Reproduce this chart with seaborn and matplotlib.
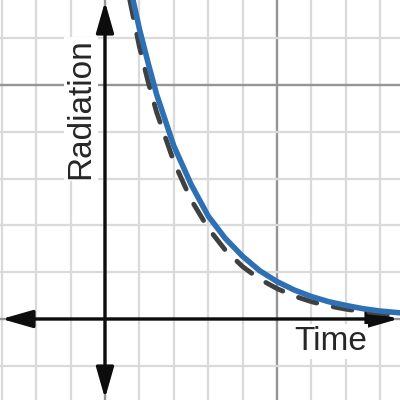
import numpy as np
import pandas as pd
import seaborn as sns
import matplotlib.pyplot as plt
from matplotlib.ticker import MultipleLocator

# --- Data (time in x-units, radiation in y-units) ---
time_blue = [0.7, 1.0, 1.25, 1.5, 2.0, 2.5, 3.0, 3.5, 4.0, 4.5, 5.0, 5.5, 6.0, 6.5, 7.0, 7.5, 8.0, 8.6]
rad_blue = [7.20, 6.20, 5.48, 4.80, 3.70, 2.88, 2.20, 1.72, 1.34, 1.03, 0.80, 0.62, 0.48, 0.37, 0.29, 0.22, 0.17, 0.13]

time_dash = [0.6, 1.0, 1.25, 1.5, 2.0, 2.5, 3.0, 3.5, 4.0, 4.5, 5.0, 5.5, 6.0, 6.5, 7.0, 7.5, 8.0, 8.6]
rad_dash = [7.25, 5.82, 5.08, 4.42, 3.36, 2.55, 1.94, 1.47, 1.12, 0.85, 0.65, 0.49, 0.37, 0.28, 0.21, 0.16, 0.12, 0.09]

x_label = 'Time'
y_label = 'Radiation'

blue_df = pd.DataFrame({'time': time_blue, 'radiation': rad_blue})
dash_df = pd.DataFrame({'time': time_dash, 'radiation': rad_dash})

# --- Style ---
sns.set_style('white')
plt.rcParams['font.family'] = ['Liberation Sans', 'DejaVu Sans']

fig = plt.figure(figsize=(4, 4), dpi=100)
ax = fig.add_axes([0, 0, 1, 1])

x_min, x_max = -3.052, 8.576
y_min, y_max = -1.731, 6.816
ax.set_xlim(x_min, x_max)
ax.set_ylim(y_min, y_max)

# graph-paper grid
ax.xaxis.set_major_locator(MultipleLocator(5))
ax.xaxis.set_minor_locator(MultipleLocator(1))
ax.yaxis.set_major_locator(MultipleLocator(5))
ax.yaxis.set_minor_locator(MultipleLocator(1))
ax.grid(which='minor', color='#dadada', linewidth=1.6)
ax.grid(which='major', color='#959595', linewidth=1.7)
ax.tick_params(which='both', length=0, labelbottom=False, labelleft=False)
ax.set_axisbelow(True)
for s in ax.spines.values():
    s.set_visible(False)

# axes with arrow heads
arrow = dict(arrowstyle='<|-|>,head_length=1.05,head_width=0.3',
             mutation_scale=18, color='#0d0d0d', lw=2.4, shrinkA=0, shrinkB=0)
ax.annotate('', xy=(0.996, 0), xytext=(0.004, 0),
            xycoords=('axes fraction', 'data'), textcoords=('axes fraction', 'data'),
            arrowprops=arrow, zorder=3)
ax.annotate('', xy=(0, 0.996), xytext=(0, 0.004),
            xycoords=('data', 'axes fraction'), textcoords=('data', 'axes fraction'),
            arrowprops=arrow, zorder=3)

# curves
sns.lineplot(data=dash_df, x='time', y='radiation', ax=ax, estimator=None, sort=False,
             color='#404040', linewidth=3.5, linestyle=(0, (3.9, 3.5)),
             dash_capstyle='round', zorder=4)
sns.lineplot(data=blue_df, x='time', y='radiation', ax=ax, estimator=None, sort=False,
             color='#2d70b3', linewidth=4.0, solid_capstyle='round', zorder=5)
ax.set_xlabel('')
ax.set_ylabel('')

# labels with white backing
box = dict(boxstyle='square,pad=0.05', fc='white', ec='none')
ax.text(6.55, -0.66, x_label, fontsize=24, ha='center', va='baseline',
        bbox=box, zorder=6)
ax.text(-0.70, 4.49, y_label, fontsize=24, rotation=90, ha='center', va='center',
        bbox=box, zorder=6)

fig.savefig('out.png', dpi=100)
